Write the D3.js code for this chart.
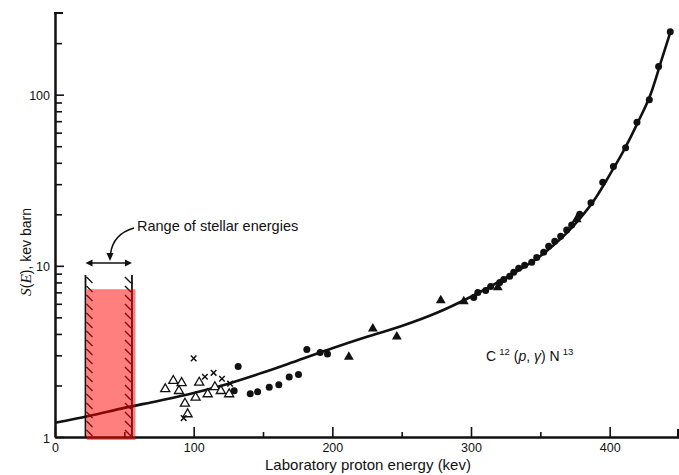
<!DOCTYPE html>
<html>
<head>
<meta charset="utf-8">
<script src="https://cdn.jsdelivr.net/npm/d3@7"></script>
<style>
  html, body { margin: 0; padding: 0; background: #fff; }
  svg { display: block; font-family: "Liberation Sans", Arial, sans-serif; }
</style>
</head>
<body>
<svg id="chart" width="679" height="475"></svg>
<script>
// Fitted S-factor curve for C12(p,gamma)N13 (keV, keV barn)
const curveE = [0, 25, 50, 75, 100, 125, 150, 175, 200, 225, 250, 275, 300, 325, 350, 375, 390, 400, 410, 420, 430, 438, 444];
const curveS = [1.21, 1.33, 1.48, 1.63, 1.81, 2.05, 2.38, 2.8, 3.3, 3.85, 4.45, 5.3, 6.6, 8.5, 11.4, 17.5, 25, 34, 47, 68, 103, 165, 235];

// Filled circles
const dotE = [129.2, 132.1, 140.8, 146.1, 154.5, 161.4, 168.9, 175.6, 181.6, 191.2, 196.5,
              302, 304.9, 310.6, 314.2, 320.7, 323.6, 327.9, 330.8, 334.4, 338.7, 343.8, 347.4, 352.4, 356, 360.4, 364.7, 369, 372.6,
              378.4, 386.5, 395, 402.7, 411.5, 419.7, 428.6, 435.3, 443.7];
const dotS = [1.86, 2.58, 1.79, 1.84, 1.95, 2.02, 2.24, 2.32, 3.25, 3.12, 3.05,
              6.54, 6.99, 7.18, 7.58, 8.0, 8.33, 8.68, 9.16, 9.67, 10.07, 10.5, 11.2, 12.0, 13.0, 13.9, 14.9, 16.2, 17.3,
              20, 23.4, 30.8, 38, 48.9, 69, 93.5, 146, 233];

// Filled triangles
const triE = [211.9, 229.2, 246.5, 278.2, 294.8, 319.3, 376.2];
const triS = [2.94, 4.30, 3.86, 6.28, 6.19, 7.48, 18.7];

// Open triangles
const openE = [79.5, 85.3, 91.3, 89.4, 93.7, 95.6, 101.4, 104, 110.1, 115.3, 119.6, 125.6];
const openS = [1.905, 2.13, 2.07, 1.86, 1.57, 1.36, 1.70, 2.08, 1.78, 1.96, 1.86, 1.78];

// Crosses
const crossE = [100, 108.1, 114.4, 120.4, 126.3, 92.8];
const crossS = [2.88, 2.25, 2.37, 2.19, 2.05, 1.29];

// Axis ticks
const xMajor = [0, 100, 200, 300, 400];
const xMinor = [50, 150, 250, 350];
const yMajor = [1, 10, 100];
const yMinor = [2, 3, 4, 5, 6, 7, 8, 9, 20, 30, 40, 50, 60, 70, 80, 90, 200];

// Range of stellar energies (keV) and shaded band
const stellarRange = [22, 55.5];
const bandE = [23, 58];
const bandS = [0.96, 7.3];

const svg = d3.select("#chart");
const x = d3.scaleLinear().domain([0, 450]).range([55, 679]);
const y = d3.scaleLog().domain([1, 300]).range([437, 13]);

// Axes with inward ticks
const axes = svg.append("g");
axes.append("g").attr("transform", `translate(0,${y(1)})`)
  .call(d3.axisBottom(x).tickValues(xMajor).tickSizeInner(-10).tickSizeOuter(0).tickPadding(6).tickFormat(d3.format("d")));
axes.append("g").attr("transform", `translate(0,${y(1)})`)
  .call(d3.axisBottom(x).tickValues(xMinor).tickSizeInner(-5).tickSizeOuter(0).tickFormat(""));
const yAxis = axes.append("g").attr("transform", `translate(${x(0)},0)`)
  .call(d3.axisLeft(y).tickValues(yMajor).tickSizeInner(-9).tickSizeOuter(0).tickPadding(5).tickFormat(d3.format("d")));
axes.append("g").attr("transform", `translate(${x(0)},0)`)
  .call(d3.axisLeft(y).tickValues(yMinor).tickSizeInner(-7).tickSizeOuter(0).tickFormat(""));
axes.selectAll(".domain").attr("stroke", "#111").attr("stroke-width", 2);
axes.selectAll(".tick line").attr("stroke", "#111").attr("stroke-width", 1.6);
axes.selectAll("text").attr("font-size", 12.5).attr("fill", "#111").attr("font-family", "Liberation Sans, Arial, sans-serif");
yAxis.selectAll("text").attr("dy", "0.4em");

// Bracket end marks at the top of the y axis and the right of the x axis
axes.append("line").attr("x1", x(0) - 1).attr("x2", x(0) + 8).attr("y1", y(300)).attr("y2", y(300))
  .attr("stroke", "#111").attr("stroke-width", 2);
axes.append("line").attr("x1", x(450) - 1).attr("x2", x(450) - 1).attr("y1", y(1)).attr("y2", y(1) - 8)
  .attr("stroke", "#111").attr("stroke-width", 2);

// Axis titles
svg.append("text").attr("x", 368).attr("y", 470).attr("text-anchor", "middle")
  .attr("font-size", 15).attr("fill", "#111").text("Laboratory proton energy (kev)");
const yt = svg.append("text").attr("transform", "translate(31,252) rotate(-90)")
  .attr("text-anchor", "middle").attr("font-size", 14).attr("fill", "#111");
yt.append("tspan").attr("font-style", "italic").attr("font-family", "Liberation Serif, serif").attr("font-size", 15.5).text("S");
yt.append("tspan").text("(");
yt.append("tspan").attr("font-style", "italic").attr("font-family", "Liberation Serif, serif").attr("font-size", 15.5).text("E");
yt.append("tspan").text("), kev barn");

// Stellar energy range: hatched boundaries
const ann = svg.append("g").attr("stroke", "#111").attr("fill", "none");
const xl = x(stellarRange[0]), xr = x(stellarRange[1]);
const yTop = 275, yBot = y(1);
ann.append("line").attr("x1", xl).attr("x2", xl).attr("y1", yTop).attr("y2", yBot).attr("stroke-width", 1.8);
ann.append("line").attr("x1", xr).attr("x2", xr).attr("y1", yTop).attr("y2", yBot).attr("stroke-width", 1.8);
for (let yy = yTop + 2; yy < yBot - 3; yy += 9) {
  ann.append("line").attr("x1", xl + 1).attr("y1", yy).attr("x2", xl + 7).attr("y2", yy + 6).attr("stroke-width", 1.3);
  ann.append("line").attr("x1", xr - 7).attr("y1", yy).attr("x2", xr - 1).attr("y2", yy + 6).attr("stroke-width", 1.3);
}
// Double-headed arrow spanning the range
const ya = 263;
ann.append("line").attr("x1", xl + 4).attr("x2", xr - 4).attr("y1", ya).attr("y2", ya).attr("stroke-width", 1.5);
svg.append("path").attr("d", `M${xl},${ya} l7,-3.5 l0,7 Z`).attr("fill", "#111");
svg.append("path").attr("d", `M${xr},${ya} l-7,-3.5 l0,7 Z`).attr("fill", "#111");
// Curved pointer from the label
ann.append("path").attr("d", `M134,228 Q113,234 110.5,254`).attr("stroke-width", 1.5);
svg.append("path").attr("d", `M110,261 l-3.5,-8 l7,0 Z`).attr("fill", "#111");
svg.append("text").attr("x", 137).attr("y", 231).attr("font-size", 14.5).attr("fill", "#111")
  .text("Range of stellar energies");

// Fitted curve
const line = d3.line().x(d => x(d[0])).y(d => y(d[1])).curve(d3.curveMonotoneX);
svg.append("path").datum(d3.zip(curveE, curveS)).attr("d", line)
  .attr("fill", "none").attr("stroke", "#111").attr("stroke-width", 2.6);

// Data points
svg.append("g").selectAll("circle").data(d3.zip(dotE, dotS)).join("circle")
  .attr("cx", d => x(d[0])).attr("cy", d => y(d[1])).attr("r", 3.5).attr("fill", "#111");
const triPath = d3.symbol().type(d3.symbolTriangle).size(42);
svg.append("g").selectAll("path").data(d3.zip(triE, triS)).join("path")
  .attr("d", triPath).attr("transform", d => `translate(${x(d[0])},${y(d[1])})`).attr("fill", "#111");
svg.append("g").selectAll("path").data(d3.zip(openE, openS)).join("path")
  .attr("d", d3.symbol().type(d3.symbolTriangle).size(36))
  .attr("transform", d => `translate(${x(d[0])},${y(d[1])})`)
  .attr("fill", "#fff").attr("stroke", "#111").attr("stroke-width", 1.3);
svg.append("g").selectAll("path").data(d3.zip(crossE, crossS)).join("path")
  .attr("d", d3.symbol().type(d3.symbolX).size(22))
  .attr("transform", d => `translate(${x(d[0])},${y(d[1])})`)
  .attr("fill", "none").attr("stroke", "#111").attr("stroke-width", 1.5);

// Reaction label
const rl = svg.append("text").attr("x", 486).attr("y", 361).attr("font-size", 14).attr("fill", "#111");
rl.append("tspan").text("C");
rl.append("tspan").attr("dy", -6).attr("font-size", 9.5).attr("dx", 3).text("12");
rl.append("tspan").attr("dy", 6).attr("dx", 4).text("(");
rl.append("tspan").attr("font-style", "italic").text("p");
rl.append("tspan").text(", ");
rl.append("tspan").attr("font-style", "italic").text("γ");
rl.append("tspan").text(") N");
rl.append("tspan").attr("dy", -6).attr("font-size", 9.5).attr("dx", 3).text("13");

// Shaded stellar band
svg.append("rect")
  .attr("x", x(bandE[0])).attr("width", x(bandE[1]) - x(bandE[0]))
  .attr("y", y(bandS[1])).attr("height", y(bandS[0]) - y(bandS[1]))
  .attr("fill", "rgb(255,0,0)").attr("fill-opacity", 0.5);
</script>
</body>
</html>
